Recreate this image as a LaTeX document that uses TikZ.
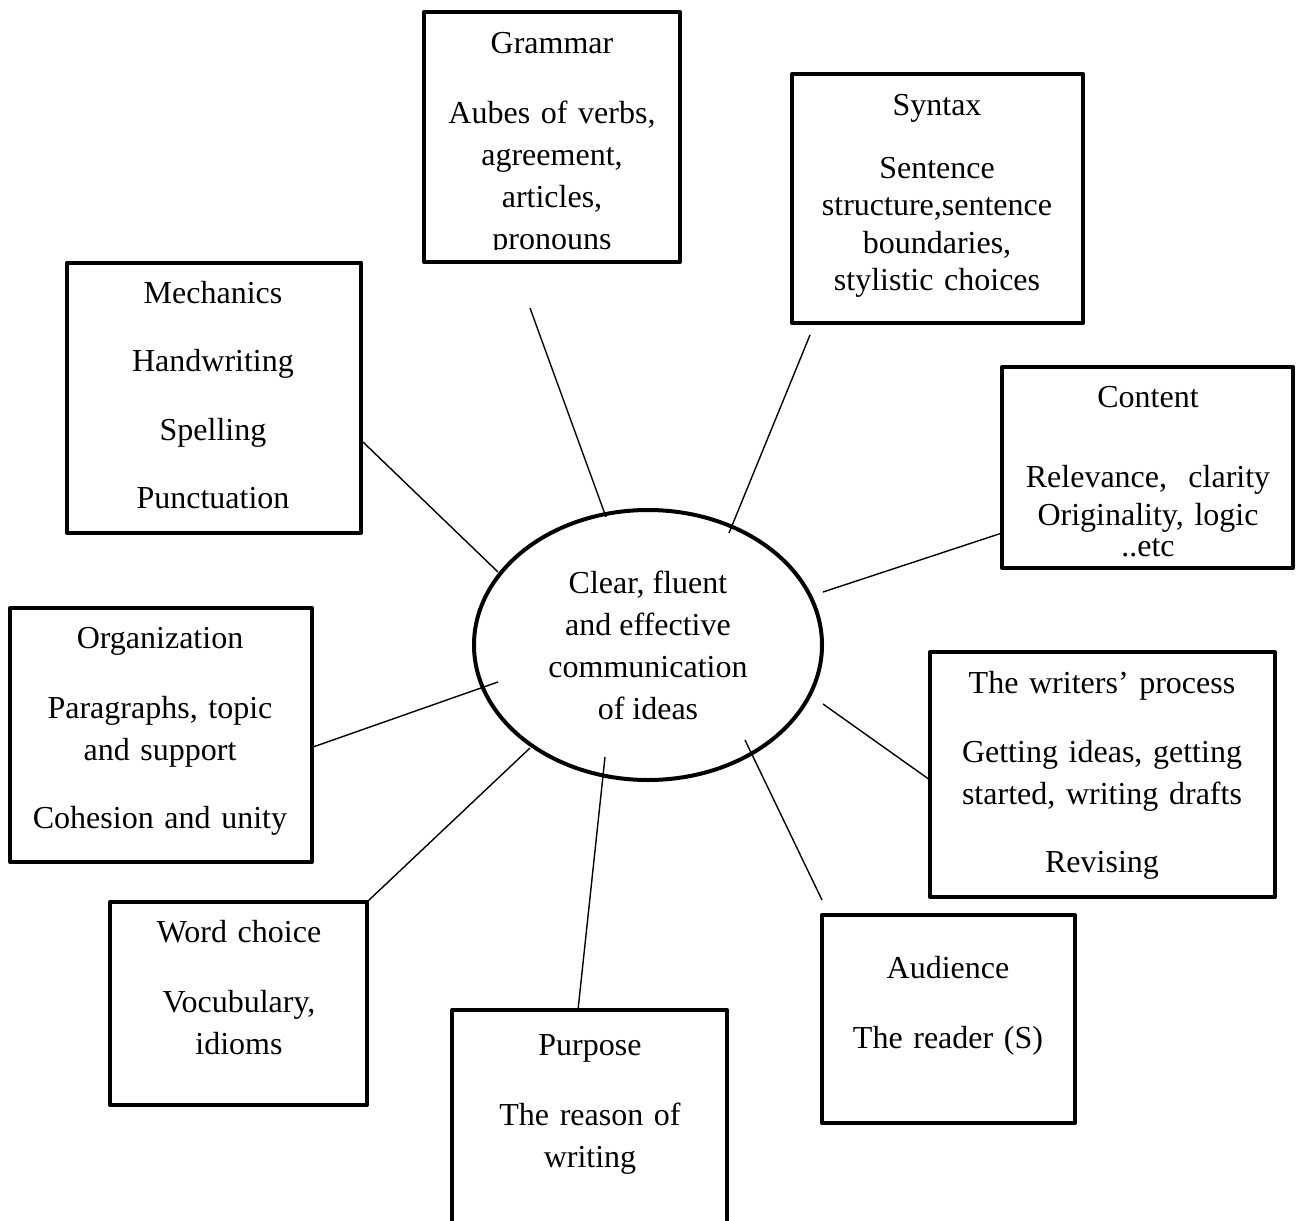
\documentclass[tikz,border=0pt]{standalone}
\usepackage{fontspec}
\setmainfont{Liberation Serif}
\usetikzlibrary{shapes.geometric}

\tikzset{
  box/.style={draw, line width=2pt, line join=round, inner sep=0pt},
  boxtext/.style={text width=#1, align=center, anchor=base, inner sep=0pt,
    font=\fontsize{16}{21}\selectfont},
  boxtext/.default=120pt,
  link/.style={line width=0.7pt},
}

\begin{document}
\begin{tikzpicture}[x=0.5pt, y=-0.5pt]
\clip (0,0) rectangle (1296,1221);

% centre
\node[ellipse, draw, line width=2pt, minimum width=174pt, minimum height=135pt, inner sep=0pt, align=center, font=\fontsize{16}{21}\selectfont] (core) at (648,645) {Clear, fluent\\and effective\\communication\\of ideas};

% boxes round it
\node[box, minimum width=128pt, minimum height=125pt] (gram) at (552,137) {};
\begin{scope}
\clip (426,14) rectangle (678,249);
\node[boxtext] (gram-t) at (552,53) {Grammar\\[14pt]Aubes of verbs,\\agreement,\\articles,\\pronouns};
\end{scope}

\node[box, minimum width=145.5pt, minimum height=124.5pt] (syn) at (937.5,198.5) {};
\node[boxtext=138pt, font=\fontsize{16}{18.75}\selectfont] (syn-t) at (937,115) {Syntax\\[12.75pt]Sentence\\structure,sentence\\boundaries,\\stylistic choices};

\node[box, minimum width=147pt, minimum height=135pt] (mech) at (214,397.5) {};
\node[boxtext=140pt] (mech-t) at (213,303) {Mechanics\\[13.25pt]Handwriting\\[13.25pt]Spelling\\[13.25pt]Punctuation};

\node[box, minimum width=145.5pt, minimum height=100.5pt] (cont) at (1147.5,467.5) {};
\node[boxtext=138pt] (cont-t) at (1148,407) {Content\\[19pt]Relevance,~ clarity\\[-2pt]Originality, logic};
\node[boxtext=138pt] (cont-e) at (1148,556) {..etc};

\node[box, minimum width=151pt, minimum height=127pt] (org) at (161,735) {};
\node[boxtext=144pt] (org-t) at (160,648) {Organization\\[14pt]Paragraphs, topic\\and support\\[13pt]Cohesion and unity};

\node[box, minimum width=172.5pt, minimum height=122.5pt] (wri) at (1102.5,774.5) {};
\node[boxtext=165pt] (wri-t) at (1102,693) {The writers’ process\\[13.5pt]Getting ideas, getting\\started, writing drafts\\[13pt]Revising};

\node[box, minimum width=128.5pt, minimum height=101.5pt] (word) at (238.5,1003.5) {};
\node[boxtext] (word-t) at (239,942) {Word choice\\[14pt]Vocubulary,\\idioms};

\node[box, minimum width=126.5pt, minimum height=104pt] (aud) at (948.5,1019) {};
\node[boxtext] (aud-t) at (948,978) {Audience\\[14pt]The reader (S)};

\node[box, minimum width=137.5pt, minimum height=125pt] (purp) at (589.5,1135) {};
\node[boxtext=130pt] (purp-t) at (590,1055) {Purpose\\[14pt]The reason of\\writing};

% line ends
\coordinate (gram-a) at (530,308);  \coordinate (gram-b) at (606,517);
\coordinate (syn-a) at (810,335);   \coordinate (syn-b) at (729,533);
\coordinate (mech-a) at (363,442);  \coordinate (mech-b) at (498,572);
\coordinate (cont-a) at (1002,533); \coordinate (cont-b) at (823,592);
\coordinate (org-a) at (313,747);   \coordinate (org-b) at (498,682);
\coordinate (wri-a) at (930,780);   \coordinate (wri-b) at (823,704);
\coordinate (word-a) at (368,901);  \coordinate (word-b) at (530,748);
\coordinate (purp-a) at (578,1010); \coordinate (purp-b) at (605,757);
\coordinate (aud-a) at (822,900);   \coordinate (aud-b) at (745,740);

\draw[link] (gram-a) -- (gram-b);
\draw[link] (syn-a) -- (syn-b);
\draw[link] (mech-a) -- (mech-b);
\draw[link] (cont-a) -- (cont-b);
\draw[link] (org-a) -- (org-b);
\draw[link] (wri-a) -- (wri-b);
\draw[link] (word-a) -- (word-b);
\draw[link] (purp-a) -- (purp-b);
\draw[link] (aud-a) -- (aud-b);
\end{tikzpicture}
\end{document}
